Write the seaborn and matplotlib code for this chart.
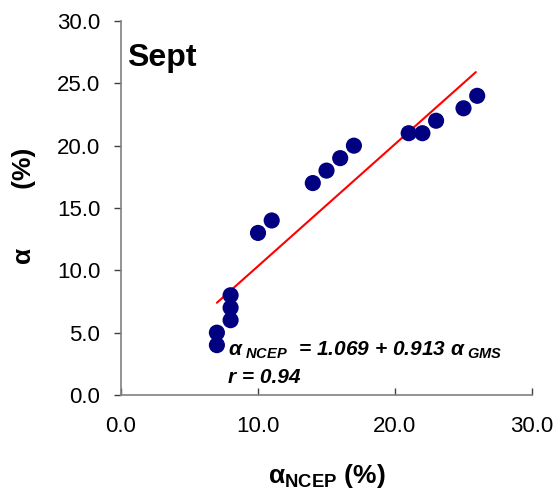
import matplotlib
matplotlib.use("Agg")
import matplotlib.pyplot as plt
import seaborn as sns
import pandas as pd

# data
x_ncep = [7, 7, 8, 8, 8, 10, 11, 14, 15, 16, 17, 21, 22, 23, 25, 26]
y_gms = [4, 5, 6, 7, 8, 13, 14, 17, 18, 19, 20, 21, 21, 22, 23, 24]
fit_x = [7.0, 25.9]
fit_y = [7.4, 25.9]
ticks = [0, 10, 20, 30]
yticks = [0, 5, 10, 15, 20, 25, 30]

sns.set_theme(style="white")
plt.rcParams['font.family'] = ['Liberation Sans', 'DejaVu Sans']
plt.rcParams['text.color'] = 'black'
plt.rcParams['axes.labelcolor'] = 'black'
plt.rcParams['mathtext.fontset'] = 'custom'
plt.rcParams['mathtext.rm'] = 'Liberation Sans:bold'
plt.rcParams['mathtext.it'] = 'Liberation Sans:bold:italic'
plt.rcParams['mathtext.bf'] = 'Liberation Sans:bold'

df = pd.DataFrame({"x": x_ncep, "y": y_gms})
fit = pd.DataFrame({"x": fit_x, "y": fit_y})

fig = plt.figure(figsize=(5.54, 4.93), dpi=100)
ax = fig.add_axes([121/554, 1-395/493, (532-121)/554, (395-21)/493])

sns.lineplot(data=fit, x="x", y="y", color="#ff0000", linewidth=1.5, ax=ax, zorder=2)
sns.scatterplot(data=df, x="x", y="y", color="#000080", s=135, edgecolor="none", ax=ax, zorder=3)

ax.set_xlim(0, 30)
ax.set_ylim(0, 30)
ax.set_xticks(ticks)
ax.set_yticks(yticks)
ax.set_xticklabels([f"{t:.1f}" for t in ticks])
ax.set_yticklabels([f"{t:.1f}" for t in yticks])
for s in ["top", "right"]:
    ax.spines[s].set_visible(False)
for s in ["left", "bottom"]:
    ax.spines[s].set_color("#808080")
    ax.spines[s].set_linewidth(1.2)
ax.tick_params(axis="y", direction="out", length=5, width=1, color="#404040",
               labelsize=16, labelcolor="black", pad=10)
ax.tick_params(axis="x", direction="in", length=5, width=1, color="#404040",
               labelsize=16, labelcolor="black", pad=15)
ax.tick_params(left=True, bottom=True)

ax.set_xlabel(r"$\mathrm{α}_{\mathrm{NCEP}}$ (%)", fontsize=19, fontweight="bold")
ax.set_ylabel("α        (%)", fontsize=19, fontweight="bold")
ax.xaxis.set_label_coords(0.5, -0.178)
ax.yaxis.set_label_coords(-0.207, 0.505)

ax.text(0.015, 0.942, "Sept", transform=ax.transAxes, fontsize=23, fontweight="bold",
        va="top", ha="left")
ax.text(7.8, 3.6, r"$α_{\ NCEP}$  = 1.069 + 0.913 $α_{\ GMS}$", fontsize=15,
        fontweight="bold", style="italic", va="center", ha="left")
ax.text(7.8, 1.4, "r = 0.94", fontsize=15, fontweight="bold", style="italic",
        va="center", ha="left")

fig.savefig("out.png", dpi=100)
